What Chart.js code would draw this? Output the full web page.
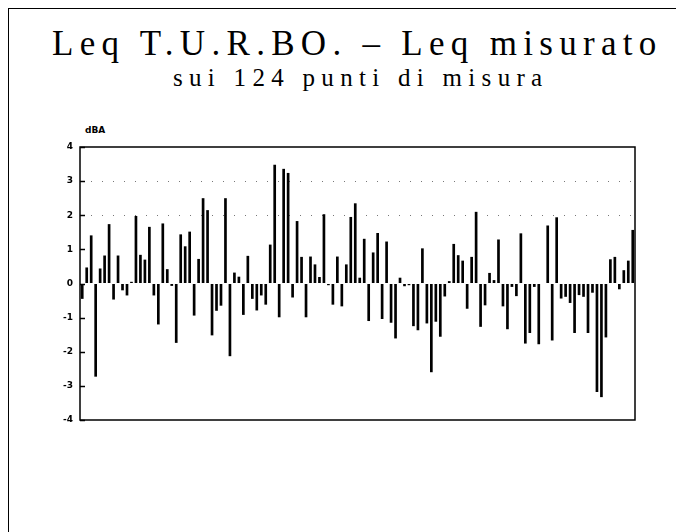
<!DOCTYPE html>
<html lang="it">
<head>
    <meta charset="UTF-8">
    <title>Leq T.U.R.BO. - Leq misurato</title>
    <script src="https://cdn.jsdelivr.net/npm/chart.js@4.4.1/dist/chart.umd.min.js"></script>
    <style>
        html, body { margin: 0; padding: 0; background: #fff; }
        .page { position: relative; width: 676px; height: 532px; overflow: hidden; }
        .frame {
            position: absolute; left: 8px; top: 8px; right: -4px; bottom: -4px;
            border-top: 1.5px solid #000; border-left: 1.5px solid #000;
        }
        .title, .subtitle {
            position: absolute; white-space: nowrap; color: #000;
            font-family: "Liberation Serif", "DejaVu Serif", serif; line-height: 1;
        }
        .title { left: 52px; top: 26px; font-size: 35px; letter-spacing: 6.3px; }
        .subtitle { left: 173px; top: 65px; font-size: 25px; letter-spacing: 6.3px; }
        .unit {
            position: absolute; left: 85px; top: 125px;
            font-family: "DejaVu Sans", sans-serif; font-size: 9px; font-weight: bold;
        }
        canvas { position: absolute; left: 0; top: 0; }
    </style>
</head>
<body>
<div class="page">
    <div class="frame"></div>
    <div class="title">Leq T.U.R.BO. &ndash; Leq misurato</div>
    <div class="subtitle">sui 124 punti di misura</div>
    <div class="unit">dBA</div>
    <canvas id="chart" width="676" height="532"></canvas>
</div>
<script>
    // differenza Leq T.U.R.BO. - Leq misurato (dBA), punti 1-42, 43-84, 85-124
    const pointsA = [-0.45, 0.47, 1.41, -2.73, 0.44, 0.82, 1.74, -0.47, 0.82, -0.2,
                     -0.35, 0.05, 1.98, 0.84, 0.7, 1.66, -0.35, -1.2, 1.76, 0.42,
                     -0.07, -1.74, 1.44, 1.09, 1.52, -0.94, 0.72, 2.5, 2.15, -1.52,
                     -0.8, -0.65, 2.5, -2.13, 0.32, 0.2, -0.92, 0.81, -0.45, -0.79,
                     -0.35, -0.62];
    const pointsB = [1.14, 3.48, -0.99, 3.36, 3.24, -0.41, 1.83, 0.78, -0.99, 0.79,
                     0.56, 0.19, 2.03, -0.05, -0.62, 0.79, -0.67, 0.56, 1.95, 2.35,
                     0.17, 1.31, -1.1, 0.91, 1.48, -1.04, 1.23, -1.15, -1.61, 0.17,
                     -0.08, -0.05, -1.25, -1.37, 1.03, -1.17, -2.6, -1.12, -1.56, -0.38,
                     0.07, 1.16];
    const pointsC = [0.83, 0.67, -0.74, 0.78, 2.1, -1.27, -0.64, 0.31, 0.1, 1.29,
                     -0.67, -1.34, -0.1, -0.37, 1.47, -1.76, -1.45, -0.1, -1.78, 0,
                     1.7, -1.67, 1.94, -0.44, -0.39, -0.57, -1.45, -0.34, -0.39, -1.45,
                     -0.27, -3.18, -3.33, -1.58, 0.71, 0.78, -0.17, 0.39, 0.67, 1.57];
    const yTicks = [4, 3, 2, 1, 0, -1, -2, -3, -4];
    const dottedAt = [2, 3];

    const values = pointsA.concat(pointsB, pointsC);
    const labels = values.map((_, i) => i + 1);

    // cornice del grafico e tacche interne sull'asse y
    const framePlugin = {
        id: 'frame',
        afterDraw(chart) {
            const { ctx, chartArea: a, scales: { y } } = chart;
            ctx.save();
            ctx.strokeStyle = '#000';
            ctx.lineWidth = 1.5;
            ctx.strokeRect(a.left, a.top, a.right - a.left, a.bottom - a.top);
            yTicks.forEach(v => {
                const py = Math.round(y.getPixelForValue(v)) + 0.5;
                ctx.beginPath();
                ctx.moveTo(a.left, py);
                ctx.lineTo(a.left + 5, py);
                ctx.stroke();
            });
            ctx.restore();
        }
    };

    new Chart(document.getElementById('chart'), {
        type: 'bar',
        data: {
            labels: labels,
            datasets: [{
                data: values,
                backgroundColor: '#000',
                borderWidth: 0,
                barPercentage: 0.6,
                categoryPercentage: 1.0
            }]
        },
        options: {
            responsive: false,
            animation: false,
            layout: { padding: { top: 147, bottom: 112, left: 0, right: 41 } },
            plugins: { legend: { display: false }, tooltip: { enabled: false } },
            scales: {
                x: { display: false },
                y: {
                    min: -4,
                    max: 4,
                    afterFit: s => { s.width = 80; },
                    afterBuildTicks: s => { s.ticks = yTicks.map(v => ({ value: v })); },
                    ticks: {
                        color: '#000',
                        padding: 7,
                        font: { family: 'DejaVu Sans', size: 9, weight: 'bold' },
                        callback: v => String(v)
                    },
                    grid: {
                        drawTicks: false,
                        lineWidth: 1,
                        color: c => (c.tick && dottedAt.includes(c.tick.value)) ? '#777' : 'rgba(0,0,0,0)'
                    },
                    border: { display: false, dash: [1, 10] }
                }
            }
        },
        plugins: [framePlugin]
    });
</script>
</body>
</html>
